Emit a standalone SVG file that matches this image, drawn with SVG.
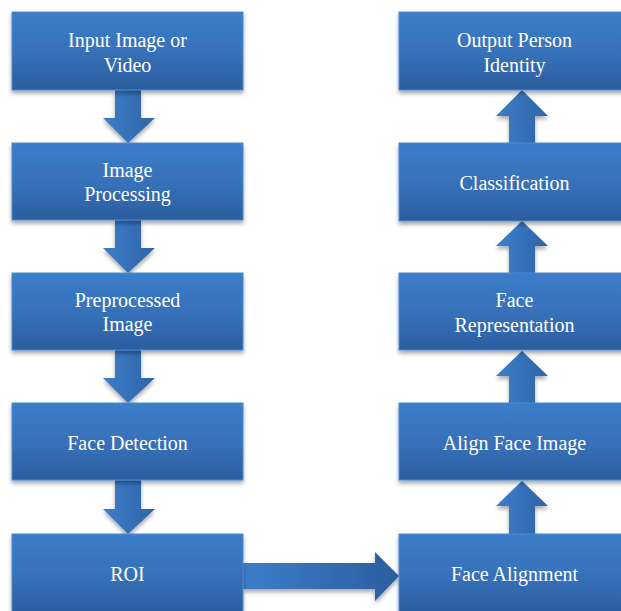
<svg xmlns="http://www.w3.org/2000/svg" width="621" height="611" viewBox="0 0 621 611">
<defs>
<linearGradient id="gBox" x1="0" y1="0" x2="0" y2="1">
<stop offset="0" stop-color="#3c7dc9"/>
<stop offset="0.55" stop-color="#3670b8"/>
<stop offset="1" stop-color="#2b5d9e"/>
</linearGradient>
<linearGradient id="gV" x1="0" y1="0" x2="1" y2="0">
<stop offset="0" stop-color="#3d7ecb"/>
<stop offset="1" stop-color="#2e64a6"/>
</linearGradient>
<linearGradient id="gH" x1="0" y1="0" x2="1" y2="0">
<stop offset="0" stop-color="#3c7dca"/>
<stop offset="1" stop-color="#2c5e9f"/>
</linearGradient>
<filter id="sh" x="-10%" y="-10%" width="120%" height="130%">
<feGaussianBlur in="SourceAlpha" stdDeviation="2"/>
<feOffset dx="0" dy="3" result="b"/>
<feComponentTransfer><feFuncA type="linear" slope="0.35"/></feComponentTransfer>
<feMerge><feMergeNode/><feMergeNode in="SourceGraphic"/></feMerge>
</filter>
</defs>
<style>
.box{fill:url(#gBox);stroke:#4b8bd3;stroke-width:1;filter:url(#sh)}
.t{font-family:"Liberation Serif","Times New Roman",serif;font-size:20px;fill:#ffffff;text-anchor:middle}
.av{fill:url(#gV);filter:url(#sh)}
.ah{fill:url(#gH);filter:url(#sh)}
</style>
<rect width="621" height="611" fill="#ffffff"/>
<g id="connectors">
<polygon class="av" points="115,90 141,90 141,118 155,118 128,143 103,118 115,118"/>
<polygon class="av" points="115,220 141,220 141,248 155,248 128,273 103,248 115,248"/>
<polygon class="av" points="115,350 141,350 141,378 155,378 128,403 103,378 115,378"/>
<polygon class="av" points="115,480 141,480 141,509 155,509 128,534 103,509 115,509"/>
<polygon class="ah" points="243,563 375,563 375,552 399,576 375,601 375,589 243,589"/>
<polygon class="av" points="509,534 535,534 535,506 548,506 522,481 496,506 509,506"/>
<polygon class="av" points="509,403 535,403 535,376 548,376 522,351 496,376 509,376"/>
<polygon class="av" points="509,273 535,273 535,246 548,246 522,221 496,246 509,246"/>
<polygon class="av" points="509,143 535,143 535,116 548,116 522,90 496,116 509,116"/>
</g>
<g id="input">
<rect class="box" x="12" y="12" width="231" height="78"/>
<text class="t" x="127.5" y="47">Input Image or</text>
<text class="t" x="127.5" y="72">Video</text>
</g>
<g id="imageProcessing">
<rect class="box" x="12" y="143" width="231" height="77"/>
<text class="t" x="127.5" y="177">Image</text>
<text class="t" x="127.5" y="201">Processing</text>
</g>
<g id="preprocessed">
<rect class="box" x="12" y="273" width="231" height="77"/>
<text class="t" x="127.5" y="307">Preprocessed</text>
<text class="t" x="127.5" y="331">Image</text>
</g>
<g id="faceDetection">
<rect class="box" x="12" y="403" width="231" height="77"/>
<text class="t" x="127.5" y="450">Face Detection</text>
</g>
<g id="roi">
<rect class="box" x="12" y="534" width="231" height="80"/>
<text class="t" x="127.5" y="581">ROI</text>
</g>
<g id="output">
<rect class="box" x="399" y="12" width="231" height="78"/>
<text class="t" x="514.5" y="47">Output Person</text>
<text class="t" x="514.5" y="72">Identity</text>
</g>
<g id="classification">
<rect class="box" x="399" y="143" width="231" height="78"/>
<text class="t" x="514.5" y="190">Classification</text>
</g>
<g id="faceRepresentation">
<rect class="box" x="399" y="273" width="231" height="77"/>
<text class="t" x="514.5" y="307">Face</text>
<text class="t" x="514.5" y="332">Representation</text>
</g>
<g id="alignFaceImage">
<rect class="box" x="399" y="403" width="231" height="77"/>
<text class="t" x="514.5" y="450">Align Face Image</text>
</g>
<g id="faceAlignment">
<rect class="box" x="399" y="534" width="231" height="80"/>
<text class="t" x="514.5" y="581">Face Alignment</text>
</g>
</svg>
